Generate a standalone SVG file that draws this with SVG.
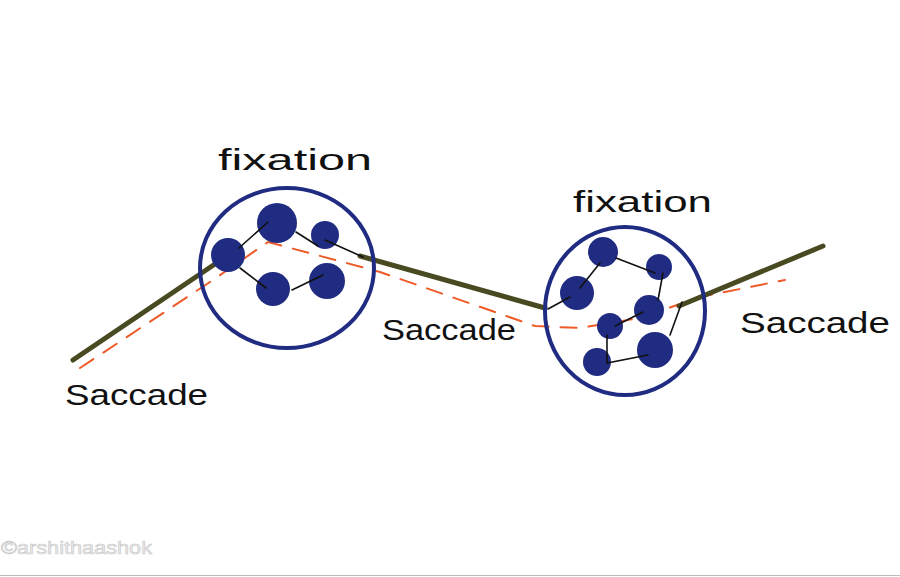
<svg xmlns="http://www.w3.org/2000/svg" width="900" height="577" viewBox="0 0 900 577">
<style>
.olive{stroke:#4a4a22;stroke-width:5;fill:none;stroke-linecap:round;stroke-linejoin:round}
.path{stroke:#ee5a28;stroke-width:2;fill:none;stroke-dasharray:16 12;stroke-linecap:round}
.ring{fill:none;stroke:#202c82;stroke-width:4}
.blob{fill:#202c82}
.link{stroke:#111;stroke-width:1.6;fill:none;stroke-linecap:round}
.hand{font-family:"Liberation Sans",Arial,sans-serif;fill:#111;font-size:30px}
.wm{font-family:"Liberation Sans",Arial,sans-serif;font-size:19px;fill:#ececec;stroke:#c8c8c8;stroke-width:0.6}
</style>
<rect width="900" height="577" fill="#fff"/>
<g id="connectors">
<path class="path" d="M80,368 L210,282 L268,242 L380,272 L535,326 L580,328 L640,318 L700,297 L785,280"/>
<path class="olive" d="M73,360 L215,264"/>
<path class="olive" d="M360,256 L545,308"/>
<path class="olive" d="M679,306 L823,246"/>
</g>
<g id="fixation1">
<ellipse class="ring" cx="287" cy="268" rx="87" ry="80"/>
<circle class="blob" cx="228" cy="255" r="17"/>
<circle class="blob" cx="277" cy="223" r="20"/>
<circle class="blob" cx="325" cy="235" r="14"/>
<circle class="blob" cx="273" cy="289" r="17"/>
<circle class="blob" cx="327" cy="281" r="18"/>
<path class="link" d="M239,248 L268,222 M296,232 L318,246 M325,240 L363,257 M240,268 L266,288 M292,290 L323,275"/>
</g>
<g id="fixation2">
<ellipse class="ring" cx="625" cy="311" rx="80" ry="84"/>
<circle class="blob" cx="603" cy="252" r="15"/>
<circle class="blob" cx="659" cy="267" r="13"/>
<circle class="blob" cx="577" cy="293" r="17"/>
<circle class="blob" cx="649" cy="310" r="15"/>
<circle class="blob" cx="610" cy="326" r="13"/>
<circle class="blob" cx="597" cy="362" r="14"/>
<circle class="blob" cx="655" cy="350" r="18"/>
<path class="link" d="M600,263 L580,288 M570,297 L548,309 M616,258 L655,273 M663,273 L658,300 M643,312 L615,326 M607,335 L607,363 L648,355 M670,335 L682,302"/>
</g>
<g id="labels">
<text class="hand" x="218" y="170" textLength="154" lengthAdjust="spacingAndGlyphs">fixation</text>
<text class="hand" x="573" y="212" textLength="139" lengthAdjust="spacingAndGlyphs">fixation</text>
<text class="hand" x="65" y="405" textLength="143" lengthAdjust="spacingAndGlyphs">Saccade</text>
<text class="hand" x="382" y="340" textLength="134" lengthAdjust="spacingAndGlyphs">Saccade</text>
<text class="hand" x="740" y="333" textLength="150" lengthAdjust="spacingAndGlyphs">Saccade</text>
</g>
<text class="wm" x="1" y="554" textLength="151" lengthAdjust="spacingAndGlyphs">©arshithaashok</text>
<line x1="0" y1="575.5" x2="900" y2="575.5" stroke="#bbb" stroke-width="1"/>
</svg>
